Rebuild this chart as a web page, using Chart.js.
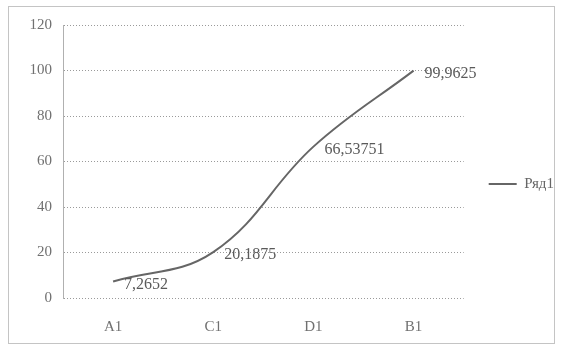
<!DOCTYPE html>
<html>
<head>
<meta charset="utf-8">
<script src="https://cdn.jsdelivr.net/npm/chart.js@4"></script>
<style>
  html, body { margin: 0; padding: 0; background: #fff; }
  #wrap { width: 562px; height: 353px; }
</style>
</head>
<body>
<div id="wrap"><canvas id="c" width="562" height="353"></canvas></div>
<script>
// Categories, series and axis ticks
const categories = ['A1', 'C1', 'D1', 'B1'];
const seriesName = 'Ряд1';
const seriesValues = [7.2652, 20.1875, 66.53751, 99.9625];
const yTicks = [0, 20, 40, 60, 80, 100, 120];

const FONT = '"Liberation Serif", "DejaVu Serif", serif';

// Values shown with a decimal comma
const fmt = v => String(v).replace('.', ',');

// Light frame around the whole chart
const framePlugin = {
  id: 'frame',
  beforeDraw(chart) {
    const ctx = chart.ctx;
    ctx.save();
    ctx.fillStyle = '#ffffff';
    ctx.fillRect(0, 0, chart.width, chart.height);
    ctx.strokeStyle = '#c4c4c4';
    ctx.lineWidth = 1;
    ctx.strokeRect(8.5, 6.5, chart.width - 16, chart.height - 16);
    ctx.restore();
  }
};

// Nudge the legend item so it sits level with the middle of the frame
const legendShift = {
  id: 'legendShift',
  afterLayout(chart) {
    const lg = chart.legend;
    if (lg) { lg.top -= 5; lg.bottom -= 5; }
  }
};

// Value labels to the right of each point
const valueLabels = {
  id: 'valueLabels',
  afterDatasetsDraw(chart) {
    const ctx = chart.ctx;
    const meta = chart.getDatasetMeta(0);
    const data = chart.data.datasets[0].data;
    ctx.save();
    ctx.font = '16px ' + FONT;
    ctx.fillStyle = '#5a5a5a';
    ctx.textAlign = 'left';
    ctx.textBaseline = 'middle';
    meta.data.forEach((pt, i) => {
      ctx.fillText(fmt(data[i]), pt.x + 11, pt.y + 3);
    });
    ctx.restore();
  }
};

new Chart(document.getElementById('c'), {
  type: 'line',
  data: {
    labels: categories,
    datasets: [{
      label: seriesName,
      data: seriesValues,
      borderColor: '#666666',
      backgroundColor: '#666666',
      borderWidth: 2,
      pointRadius: 0,
      pointHoverRadius: 0,
      tension: 0.4,
      fill: false
    }]
  },
  options: {
    responsive: false,
    animation: false,
    layout: { padding: { top: 25, right: -2, bottom: 0, left: 0 } },
    plugins: {
      tooltip: { enabled: false },
      legend: {
        position: 'right',
        labels: {
          usePointStyle: true,
          pointStyle: 'line',
          pointStyleWidth: 28,
          padding: 25,
          color: '#666666',
          font: { family: FONT, size: 15 }
        }
      }
    },
    scales: {
      x: {
        offset: true,
        grid: { display: false, drawTicks: false },
        border: { display: false },
        ticks: {
          padding: 20,
          color: '#707070',
          font: { family: FONT, size: 15 }
        },
        afterFit(scale) { scale.height = 55; }
      },
      y: {
        min: 0,
        max: 120,
        afterBuildTicks(scale) { scale.ticks = yTicks.map(v => ({ value: v })); },
        grid: {
          color: '#9a9a9a',
          lineWidth: 1,
          drawTicks: false
        },
        border: { display: true, color: '#b0b0b0', dash: [1, 2], width: 1 },
        ticks: {
          padding: 11,
          color: '#707070',
          font: { family: FONT, size: 15 }
        },
        afterFit(scale) { scale.width = 63; }
      }
    }
  },
  plugins: [framePlugin, legendShift, valueLabels]
});

// Dotted grid lines
const chart = Chart.getChart('c');
chart.options.scales.y.grid.borderDash = [1, 2];
chart.options.scales.y.border.dash = [1, 2];
chart.update();
</script>
</body>
</html>
